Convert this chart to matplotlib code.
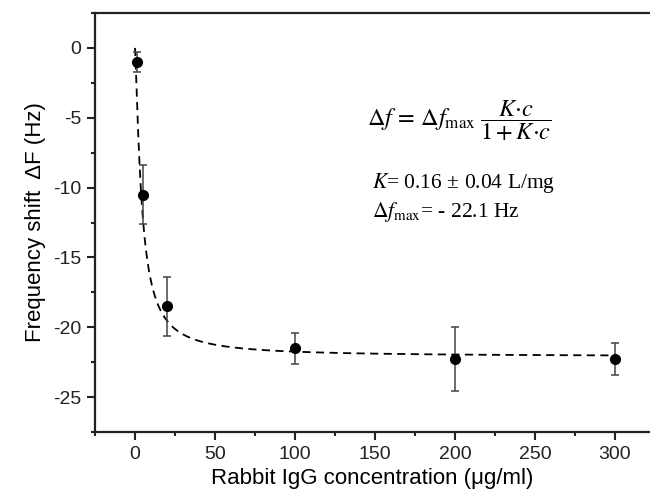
import numpy as np
import matplotlib
matplotlib.use("Agg")
import matplotlib.pyplot as plt
from matplotlib.ticker import MultipleLocator

# measured data
conc = [1, 5, 20, 100, 200, 300]
shift = [-1.0, -10.5, -18.5, -21.5, -22.3, -22.3]
shift_err = [0.7, 2.1, 2.1, 1.1, 2.3, 1.15]

# fitted saturation curve parameters (as drawn)
fit_max = -22.1
fit_half = 4.2
fit_n = 1.3

x_ticks = [0, 50, 100, 150, 200, 250, 300]
y_ticks = [0, -5, -10, -15, -20, -25]

plt.rcParams['font.family'] = ['Liberation Sans', 'DejaVu Sans']
plt.rcParams['mathtext.fontset'] = 'stix'
plt.rcParams['axes.unicode_minus'] = False

fig = plt.figure(figsize=(6.5, 4.97), dpi=100)
ax = fig.add_axes([95/650, 1-432/497, 1-95/650, (432-13)/497])

cfit = np.linspace(0, 300, 3000)
r = (cfit/fit_half)**fit_n
ffit = fit_max * r/(1+r)
ax.plot(cfit, ffit, color='black', lw=1.3, ls=(0, (4.5, 3)))

ax.errorbar(conc, shift, yerr=shift_err, fmt='o', color='black', ms=7,
            ecolor='#444444', elinewidth=1.1, capsize=3, capthick=1.1, zorder=3)

ax.set_xlim(-25, 322)
ax.set_ylim(-27.5, 2.5)
ax.set_xticks(x_ticks)
ax.set_yticks(y_ticks)
ax.xaxis.set_minor_locator(MultipleLocator(25))
ax.yaxis.set_minor_locator(MultipleLocator(2.5))
ax.tick_params(which='major', direction='out', length=6, width=1.5, labelsize=14,
               colors='#222222', pad=4)
ax.tick_params(which='minor', direction='out', length=3, width=1.5, colors='#222222')
ax.tick_params(top=False, right=False)
for s in ['left', 'bottom', 'top']:
    ax.spines[s].set_linewidth(1.6)
    ax.spines[s].set_color('#222222')
ax.spines['right'].set_visible(False)

ax.set_xlabel('Rabbit IgG concentration (μg/ml)', fontsize=16, labelpad=4)
ax.set_ylabel('Frequency shift  ΔF (Hz)', fontsize=16, labelpad=5)

ax.text(0.49, 0.742, r'$\Delta f\, =\, \Delta f_{\mathrm{max}}\; \dfrac{K{\cdot}c}{1+K{\cdot}c}$',
        transform=ax.transAxes, fontsize=17.5, ha='left', va='center')
ax.text(0.499, 0.594, r'$K$= 0.16 ± 0.04 L/mg', transform=ax.transAxes, fontsize=15.5,
        ha='left', va='center', family=['Liberation Serif', 'DejaVu Serif'])
ax.text(0.499, 0.525, r'$\Delta f_{\mathrm{max}}$= - 22.1 Hz', transform=ax.transAxes, fontsize=15.5,
        ha='left', va='center', family=['Liberation Serif', 'DejaVu Serif'])

fig.savefig('out.png', dpi=100)
